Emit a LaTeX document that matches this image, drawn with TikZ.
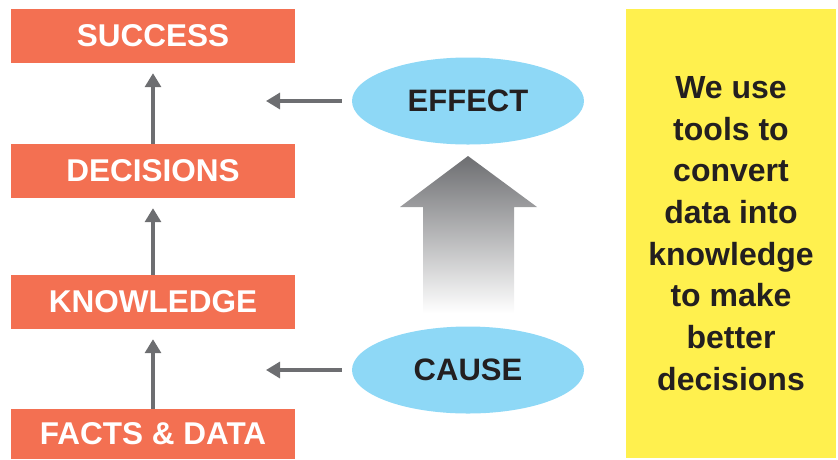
\documentclass[tikz,border=0pt]{standalone}
\usepackage{fontspec}
\setmainfont{Liberation Sans}
\usetikzlibrary{shapes,arrows.meta,calc,positioning}

\definecolor{boxorange}{HTML}{F37052}
\definecolor{ovalblue}{HTML}{8ED8F6}
\definecolor{noteyellow}{HTML}{FFF04E}
\definecolor{arrowgray}{HTML}{6D6E71}
\definecolor{textdark}{HTML}{231F20}

\begin{document}
\begin{tikzpicture}[x=1pt,y=-1pt,
    stagebox/.style={rectangle,fill=boxorange,text=white,minimum width=284pt,minimum height=54pt,inner sep=0pt,font=\fontsize{31.5}{36}\selectfont\bfseries},
    oval/.style={ellipse,fill=ovalblue,text=textdark,minimum width=232pt,minimum height=87pt,inner sep=0pt,font=\fontsize{31}{36}\selectfont\bfseries},
    uparrow/.style={draw=arrowgray,line width=3.2pt,-{Triangle[width=16pt,length=14pt]},shorten >=10pt},
    sidearrow/.style={draw=arrowgray,line width=3.2pt,-{Triangle[width=16pt,length=14pt]},shorten <=10pt}]
  \useasboundingbox (0,0) rectangle (838,459);

  \node[stagebox] (success) at (153,36) {SUCCESS};
  \node[stagebox] (decisions) at (153,171) {DECISIONS};
  \node[stagebox] (knowledge) at (153,302) {KNOWLEDGE};
  \node[stagebox,minimum height=50pt] (facts) at (153,434) {FACTS \& DATA};

  \draw[uparrow] (decisions) -- (success);
  \draw[uparrow] (knowledge) -- (decisions);
  \draw[uparrow] (facts) -- (knowledge);

  \node[oval] (effect) at (468,101) {EFFECT};
  \node[oval] (cause) at (468,370) {CAUSE};
  \coordinate (effectend) at (266,101);
  \coordinate (causeend) at (266,370);

  \draw[sidearrow] (effect.west) -- (effectend);
  \draw[sidearrow] (cause.west) -- (causeend);

  % shaded arrow from cause up to effect
  \shade[top color=arrowgray,bottom color=white]
    (423,313) -- (423,207) -- (400,207) -- (468,156) -- (537,207)
    -- (514,207) -- (514,313) -- cycle;

  \node[rectangle,fill=noteyellow,text=textdark,minimum width=210pt,minimum height=449pt,
        inner sep=0pt,align=center,font=\fontsize{32}{41.7}\selectfont\bfseries] (note) at (731,233.5)
    {We use\\tools to\\convert\\data into\\knowledge\\to make\\better\\decisions};

\end{tikzpicture}
\end{document}
